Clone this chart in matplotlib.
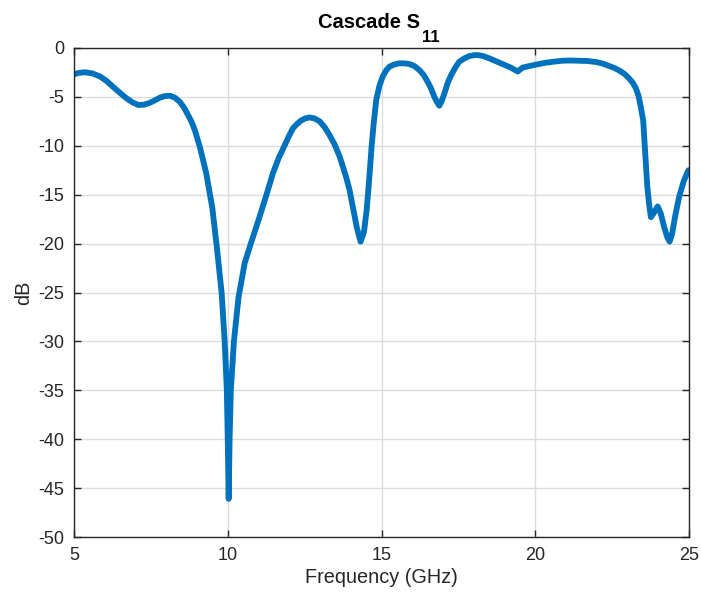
import matplotlib
matplotlib.use("Agg")
import matplotlib.pyplot as plt

freq_ghz = [4.98, 5.15, 5.36, 5.6, 5.84, 6.05, 6.28, 6.5, 6.71, 6.9, 7.09, 7.28, 7.47,
            7.63, 7.79, 7.95, 8.12, 8.28, 8.44, 8.58, 8.71, 8.83, 8.93, 9.1, 9.3,
            9.5, 9.65, 9.8, 9.9, 9.97, 10.0, 10.03, 10.06, 10.1, 10.2, 10.35, 10.55,
            10.75, 11.0, 11.25, 11.47, 11.65, 11.8, 11.96, 12.12, 12.26, 12.39,
            12.52, 12.66, 12.82, 12.99, 13.15, 13.31, 13.48, 13.64, 13.85, 13.96,
            14.07, 14.2, 14.32, 14.43, 14.52, 14.61, 14.68, 14.75, 14.83, 14.93,
            15.04, 15.15, 15.26, 15.42, 15.58, 15.75, 15.91, 16.07, 16.23, 16.37,
            16.5, 16.62, 16.72, 16.8, 16.88, 16.96, 17.05, 17.15, 17.26, 17.4,
            17.53, 17.7, 17.86, 18.0, 18.13, 18.3, 18.5, 18.72, 18.94, 19.2, 19.43,
            19.59, 19.8, 20.02, 20.35, 20.6, 20.89, 21.15, 21.43, 21.7, 21.97,
            22.2, 22.4, 22.58, 22.73, 22.9, 23.05, 23.17, 23.27, 23.36, 23.43,
            23.51, 23.57, 23.64, 23.7, 23.76, 23.85, 23.98, 24.08, 24.2, 24.3,
            24.37, 24.45, 24.55, 24.68, 24.83, 24.98]
s11_db = [-2.7, -2.55, -2.48, -2.6, -2.9, -3.35, -4.0, -4.6, -5.15, -5.55, -5.83,
          -5.8, -5.6, -5.35, -5.08, -4.92, -4.88, -5.08, -5.5, -6.1, -6.86, -7.6,
          -8.4, -10.2, -12.8, -16.4, -20.5, -25.0, -30.0, -35.0, -40.0, -46.1,
          -40.0, -35.0, -30.0, -25.5, -22.0, -20.0, -17.6, -15.1, -12.8, -11.3,
          -10.3, -9.2, -8.2, -7.75, -7.4, -7.2, -7.1, -7.2, -7.5, -8.1, -8.9,
          -9.9, -11.1, -13.2, -14.5, -16.3, -18.4, -19.8, -18.8, -16.5, -13.0,
          -10.0, -7.6, -5.3, -3.9, -2.9, -2.3, -1.9, -1.68, -1.57, -1.57, -1.64,
          -1.85, -2.25, -2.75, -3.45, -4.2, -5.0, -5.5, -5.9, -5.4, -4.6, -3.6,
          -2.8, -2.0, -1.4, -1.05, -0.82, -0.74, -0.72, -0.82, -1.05, -1.35,
          -1.64, -2.0, -2.4, -2.0, -1.85, -1.7, -1.5, -1.4, -1.3, -1.28, -1.3,
          -1.33, -1.43, -1.6, -1.84, -2.05, -2.3, -2.65, -3.1, -3.55, -4.1, -4.9,
          -6.0, -7.4, -10.5, -14.0, -15.9, -17.3, -16.9, -16.2, -16.9, -18.4,
          -19.4, -19.8, -19.0, -17.2, -15.2, -13.6, -12.5]

x_ticks = [5, 10, 15, 20, 25]
y_ticks = [0, -5, -10, -15, -20, -25, -30, -35, -40, -45, -50]

plt.rcParams['font.family'] = ['Liberation Sans', 'DejaVu Sans']
plt.rcParams['axes.unicode_minus'] = False

W, H = 701, 594
fig = plt.figure(figsize=(W / 100, H / 100), dpi=100)
ax = fig.add_axes([74 / W, 1 - 537 / H, (689 - 74) / W, (537 - 48) / H])

ax.plot(freq_ghz, s11_db, color='#0072BD', linewidth=4.2, solid_capstyle='round',
        solid_joinstyle='round')

ax.set_xlim(5, 25)
ax.set_ylim(-50, 0)
ax.set_xticks(x_ticks)
ax.set_yticks(y_ticks)
ax.grid(True, color='#dcdcdc', linewidth=1.0)
ax.set_axisbelow(True)
ax.tick_params(direction='in', top=True, right=True, length=5, width=1,
               colors='#262626', labelsize=13, pad=7)
for sp in ax.spines.values():
    sp.set_color('#262626')
    sp.set_linewidth(1.0)

ax.set_xlabel('Frequency (GHz)', fontsize=14.3, color='#262626', labelpad=3)
ax.set_ylabel('dB', fontsize=14.3, color='#262626', labelpad=4)

fig.text(318 / W, 1 - 28.5 / H, 'Cascade S', fontsize=14.5, fontweight='bold',
         ha='left', va='baseline', color='black')
fig.text(422 / W, 1 - 42 / H, '11', fontsize=12, fontweight='bold',
         ha='left', va='baseline', color='black')

fig.savefig('out.png', dpi=100)
